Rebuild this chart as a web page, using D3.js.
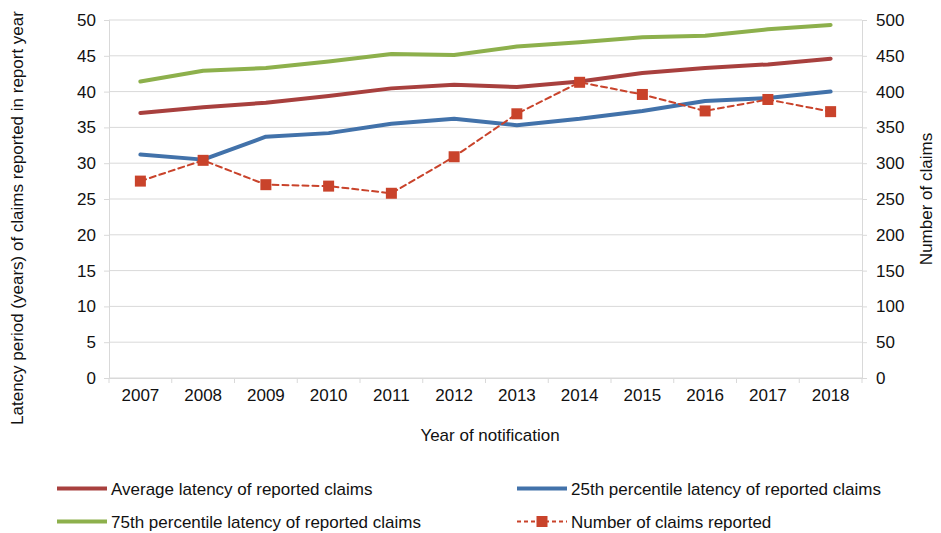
<!DOCTYPE html>
<html><head><meta charset="utf-8">
<script src="https://cdn.jsdelivr.net/npm/d3@7"></script>
<style>body{margin:0;background:#fff}svg{display:block;font-family:"Liberation Sans",Arial,sans-serif}</style>
</head><body><svg id="c" width="941" height="533"></svg>
<script>
const years = ["2007","2008","2009","2010","2011","2012","2013","2014","2015","2016","2017","2018"];
const avgLatency = [37.0,37.8,38.45,39.4,40.45,40.95,40.65,41.4,42.6,43.3,43.8,44.6];
const p25Latency = [31.2,30.5,33.7,34.2,35.5,36.2,35.3,36.2,37.3,38.7,39.1,40.0];
const p75Latency = [41.4,42.9,43.3,44.2,45.25,45.1,46.3,46.9,47.6,47.8,48.7,49.3];
const claims = [275,304,270,268,258,309,369,413,396,373,389,372];
const leftTicks = [0,5,10,15,20,25,30,35,40,45,50];
const rightTicks = [0,50,100,150,200,250,300,350,400,450,500];

const colors = {avg:"#A8403E", p25:"#4272AA", p75:"#8DB04C", claims:"#C9432B"};
const txt = "#111";
const FS = 17;
const svg = d3.select("#c");
const L=109, R=862, T=20, B=378;
const x = d3.scaleBand().domain(years).range([L,R]);
const yL = d3.scaleLinear().domain([0,50]).range([B,T]);
const yR = d3.scaleLinear().domain([0,500]).range([B,T]);
const grid="#d9d9d9";

// gridlines
svg.append("g").selectAll("line").data(leftTicks).join("line")
  .attr("x1",L).attr("x2",R).attr("y1",d=>yL(d)).attr("y2",d=>yL(d))
  .attr("stroke",grid).attr("stroke-width",1);

const gl = svg.append("g").attr("transform",`translate(${L},0)`)
  .call(d3.axisLeft(yL).tickValues(leftTicks).tickSize(5).tickPadding(8));
const gr = svg.append("g").attr("transform",`translate(${R},0)`)
  .call(d3.axisRight(yR).tickValues(rightTicks).tickSize(5).tickPadding(9));
const gb = svg.append("g").attr("transform",`translate(0,${B})`)
  .call(d3.axisBottom(x).tickSize(0).tickPadding(11));
svg.append("g").selectAll("line").data(d3.range(years.length+1)).join("line")
  .attr("x1",i=>L+i*x.step()).attr("x2",i=>L+i*x.step())
  .attr("y1",B).attr("y2",B+5).attr("stroke",grid);
[gl,gr,gb].forEach(g=>{
  g.selectAll("path").attr("stroke",grid);
  g.selectAll(".tick line").attr("stroke",grid);
  g.selectAll("text").attr("font-size",FS).attr("fill",txt)
   .attr("font-family","Liberation Sans, Arial, sans-serif");
});

const cx = d=>x(d)+x.bandwidth()/2;
function drawLine(vals, scale, color, width, dash){
  const line = d3.line().x((d,i)=>cx(years[i])).y(d=>scale(d));
  svg.append("path").datum(vals).attr("d",line).attr("fill","none")
    .attr("stroke",color).attr("stroke-width",width).attr("stroke-linejoin","round")
    .attr("stroke-linecap","round").attr("stroke-dasharray",dash||null);
}
drawLine(p75Latency,yL,colors.p75,4);
drawLine(avgLatency,yL,colors.avg,4);
drawLine(p25Latency,yL,colors.p25,4);
drawLine(claims,yR,colors.claims,2,"6,4");
svg.append("g").selectAll("rect").data(claims).join("rect")
  .attr("x",(d,i)=>cx(years[i])-5.5).attr("y",d=>yR(d)-5.5)
  .attr("width",11).attr("height",11).attr("fill",colors.claims);

// axis titles
svg.append("text").attr("transform",`translate(23,${218}) rotate(-90)`)
  .attr("text-anchor","middle").attr("font-size",FS).attr("fill",txt)
  .text("Latency period (years) of claims reported in report year");
svg.append("text").attr("transform",`translate(932,${(T+B)/2}) rotate(-90)`)
  .attr("text-anchor","middle").attr("font-size",FS).attr("fill",txt)
  .text("Number of claims");
svg.append("text").attr("x",490).attr("y",441).attr("text-anchor","middle")
  .attr("font-size",FS).attr("fill",txt).text("Year of notification");

// legend
const legend = [
  {label:"Average latency of reported claims", color:colors.avg, x:57, y:488.5, type:"line"},
  {label:"25th percentile latency of reported claims", color:colors.p25, x:517, y:488.5, type:"line"},
  {label:"75th percentile latency of reported claims", color:colors.p75, x:57, y:521.5, type:"line"},
  {label:"Number of claims reported", color:colors.claims, x:517, y:521.5, type:"marker"}
];
const lg = svg.append("g").selectAll("g").data(legend).join("g")
  .attr("transform",d=>`translate(${d.x},${d.y})`);
lg.append("line").attr("x1",0).attr("x2",50).attr("y1",0).attr("y2",0)
  .attr("stroke",d=>d.color).attr("stroke-width",d=>d.type==="line"?4:2)
  .attr("stroke-dasharray",d=>d.type==="line"?null:"4,3");
lg.filter(d=>d.type==="marker").append("rect").attr("x",19.5).attr("y",-5.5)
  .attr("width",11).attr("height",11).attr("fill",d=>d.color);
lg.append("text").attr("x",54).attr("y",6).attr("font-size",FS).attr("fill",txt)
  .text(d=>d.label);
</script></body></html>
